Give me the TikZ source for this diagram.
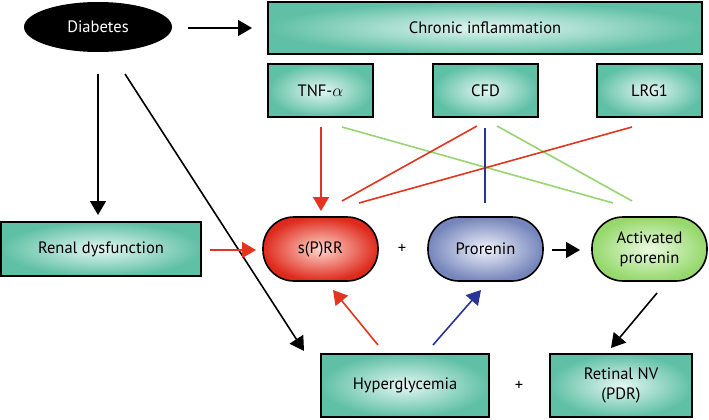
\documentclass[tikz,border=0pt]{standalone}
\usepackage{fontspec}
\setmainfont{PT Sans}
\usetikzlibrary{arrows.meta,shapes.geometric}
\definecolor{tealout}{RGB}{96,192,166}
\definecolor{tealin}{RGB}{228,247,241}
\definecolor{redout}{RGB}{222,42,28}
\definecolor{redin}{RGB}{255,215,205}
\definecolor{blueout}{RGB}{118,134,188}
\definecolor{bluein}{RGB}{240,242,250}
\definecolor{greenout}{RGB}{150,216,108}
\definecolor{greenin}{RGB}{235,250,225}
\definecolor{lred}{RGB}{226,52,30}
\definecolor{lgreen}{RGB}{152,212,112}
\definecolor{lblue}{RGB}{40,52,150}
\tikzset{
  lbl/.style={font=\fontsize{16.5}{20}\selectfont},
  tbox/.style={draw=black, line width=1.6pt, rectangle, inner color=tealin, outer color=tealout, lbl, align=center, inner sep=0pt},
  pill/.style={draw=black, line width=1.6pt, rounded corners=31pt, minimum width=115pt, minimum height=64pt, lbl, align=center, inner sep=0pt},
  arr/.style={line width=1.6pt, -{Triangle[length=14pt,width=16pt]}},
  thin/.style={line width=1.6pt},
}
\begin{document}
\begin{tikzpicture}[x=1pt,y=-1pt]
\useasboundingbox (0,0) rectangle (709,420);
% nodes
\node[ellipse, fill=black, text=white, minimum width=148pt, minimum height=50pt, inner sep=0pt, lbl] (diab) at (98,27) {Diabetes};
\node[tbox, minimum width=434pt, minimum height=52pt] (chron) at (485,28) {Chronic inflammation};
\node[tbox, minimum width=105pt, minimum height=53pt] (tnf) at (320.5,90.5) {TNF-$\alpha$};
\node[tbox, minimum width=105pt, minimum height=53pt] (cfd) at (485.5,90.5) {CFD};
\node[tbox, minimum width=105pt, minimum height=53pt] (lrg) at (649.5,90.5) {LRG1};
\node[tbox, minimum width=200pt, minimum height=54pt] (renal) at (101,249) {Renal dysfunction};
\node[pill, inner color=redin, outer color=redout] (sprr) at (320.5,249) {s(P)RR};
\node[pill, inner color=bluein, outer color=blueout] (pro) at (485.5,249) {Prorenin};
\node[pill, inner color=greenin, outer color=greenout] (act) at (649.5,249) {Activated\\prorenin};
\node[lbl] (plus1) at (402,249) {+};
\node[tbox, minimum width=168pt, minimum height=63pt] (hyp) at (405,385.5) {Hyperglycemia};
\node[lbl] (plus2) at (519,386) {+};
\node[tbox, minimum width=142pt, minimum height=63pt] (ret) at (621,385.5) {Retinal NV\\(PDR)};
% coordinates
\coordinate (a1s) at (188,28); \coordinate (a1e) at (252,28);
\coordinate (a2s) at (98,74); \coordinate (a2e) at (98,215);
\coordinate (a3s) at (125,74); \coordinate (a3e) at (304,351);
\coordinate (rs) at (210,250); \coordinate (re) at (256,250);
\coordinate (ts) at (321,127); \coordinate (te) at (321,211);
\coordinate (ps) at (552,250); \coordinate (pe) at (580,250);
\coordinate (hs1) at (378,345); \coordinate (he1) at (333,290);
\coordinate (hs2) at (433,345); \coordinate (he2) at (481,290);
\coordinate (as) at (657,293); \coordinate (ae) at (611,348);
% black arrows
\draw[arr] (a1s) -- (a1e);
\draw[arr] (a2s) -- (a2e);
\draw[arr] (a3s) -- (a3e);
\draw[arr] (ps) -- (pe);
\draw[arr] (as) -- (ae);
% coloured arrows
\draw[arr, lred] (rs) -- (re);
\draw[arr, lred] (ts) -- (te);
\draw[arr, lred] (hs1) -- (he1);
\draw[arr, lblue] (hs2) -- (he2);
% crossing lines
\coordinate (g1s) at (342,127); \coordinate (g1e) at (613,203);
\coordinate (r1s) at (477,126); \coordinate (r1e) at (342,201);
\coordinate (bs) at (485,128); \coordinate (be) at (485,203);
\coordinate (g2s) at (497,126); \coordinate (g2e) at (632,201);
\coordinate (r2s) at (632,127); \coordinate (r2e) at (359,203);
\draw[thin, lgreen] (g1s) -- (g1e);
\draw[thin, lgreen] (g2s) -- (g2e);
\draw[thin, lred] (r1s) -- (r1e);
\draw[thin, lred] (r2s) -- (r2e);
\draw[thin, lblue] (bs) -- (be);
\end{tikzpicture}
\end{document}
